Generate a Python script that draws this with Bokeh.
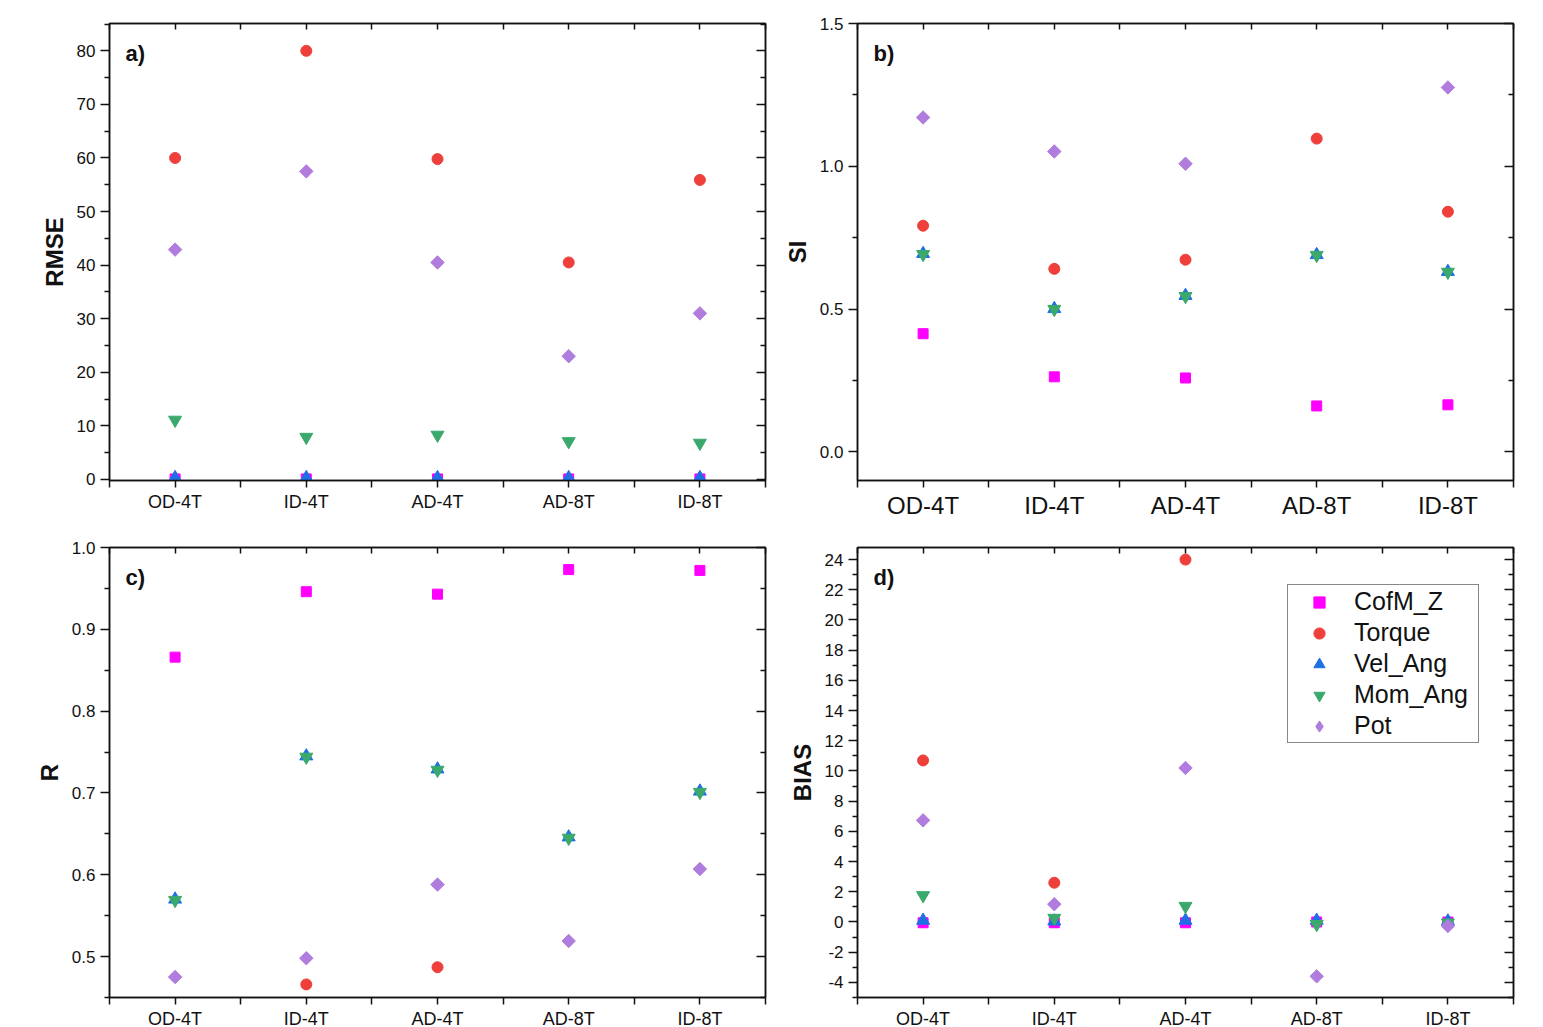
import math
from bokeh.plotting import figure
from bokeh.models import (FixedTicker, LinearAxis, Range1d, Label, Legend, LegendItem,
                          ColumnDataSource, PrintfTickFormatter, CustomLabelingPolicy)
from bokeh.layouts import column, row
from bokeh.embed import file_html
from bokeh.resources import INLINE

nan = float("nan")

categories = ["OD-4T", "ID-4T", "AD-4T", "AD-8T", "ID-8T"]
series = ["CofM_Z", "Torque", "Vel_Ang", "Mom_Ang", "Pot"]

# a) RMSE
rmse_cofm = [0.1, 0.1, 0.1, 0.1, 0.1]
rmse_torque = [60.0, 80.0, 59.8, 40.5, 55.9]
rmse_vel = [0.3, 0.3, 0.3, 0.3, 0.3]
rmse_mom = [11.1, 7.9, 8.3, 7.1, 6.8]
rmse_pot = [42.9, 57.5, 40.5, 23.0, 31.0]

# b) SI
si_cofm = [0.414, 0.263, 0.259, 0.161, 0.165]
si_torque = [0.792, 0.641, 0.673, 1.097, 0.841]
si_vel = [0.694, 0.501, 0.547, 0.690, 0.631]
si_mom = [0.692, 0.500, 0.545, 0.689, 0.630]
si_pot = [1.171, 1.052, 1.009, nan, 1.276]

# c) R
r_cofm = [0.866, 0.946, 0.943, 0.973, 0.972]
r_torque = [nan, 0.466, 0.487, nan, nan]
r_vel = [0.570, 0.745, 0.729, 0.646, 0.702]
r_mom = [0.569, 0.744, 0.728, 0.645, 0.701]
r_pot = [0.475, 0.498, 0.588, 0.519, 0.607]

# d) BIAS
bias_cofm = [-0.05, -0.05, -0.05, 0.0, 0.0]
bias_torque = [10.7, 2.6, 24.0, nan, nan]
bias_vel = [0.1, 0.05, 0.1, 0.1, 0.05]
bias_mom = [1.76, 0.26, 1.05, -0.15, -0.05]
bias_pot = [6.73, 1.18, 10.2, -3.6, -0.26]

colors = {"CofM_Z": "#FF00FF", "Torque": "#EE3F3A", "Vel_Ang": "#1F6FE5",
          "Mom_Ang": "#3BA96C", "Pot": "#B07CDD"}
markers = {"CofM_Z": ("square", 10, 0.0), "Torque": ("circle", 11, 0.0),
           "Vel_Ang": ("triangle", 13, 0.0), "Mom_Ang": ("inverted_triangle", 13, 0.0),
           "Pot": ("square", 9.5, math.pi / 4)}

FONT = "Liberation Sans"
FW = 656
INK = "#111111"
xpos = list(range(1, len(categories) + 1))
x_minor = [i + 0.5 for i in range(0, len(categories) + 1)]


def style_ticks(ax, tin, tout, mtin, mtout):
    ax.major_tick_in = tin
    ax.major_tick_out = tout
    ax.minor_tick_in = mtin
    ax.minor_tick_out = mtout
    ax.axis_line_width = 1.5
    ax.axis_line_color = INK
    ax.major_tick_line_width = 1.5
    ax.minor_tick_line_width = 1.5
    ax.major_tick_line_color = INK
    ax.minor_tick_line_color = INK


def mirror(ax):
    ax.major_label_text_font_size = "1px"
    ax.major_label_standoff = 0
    ax.major_label_policy = CustomLabelingPolicy(code="return []")


def make_panel(letter, ylabel, data, yr, ymajor, yminor, yfmt, frame_h,
               bl, br, bt, bb, xfont, legend_loc=None):
    p = figure(frame_width=FW, frame_height=frame_h, output_backend="svg",
               toolbar_location=None, x_range=Range1d(0.5, len(categories) + 0.5),
               y_range=Range1d(*yr), min_border_left=bl, min_border_right=br,
               min_border_top=bt, min_border_bottom=bb, x_axis_type=None, y_axis_type=None)
    p.background_fill_color = "white"
    p.border_fill_color = "white"
    p.outline_line_color = INK
    p.outline_line_width = 1.5
    p.xgrid.visible = False
    p.ygrid.visible = False

    xt = FixedTicker(ticks=xpos, minor_ticks=x_minor)
    yt = FixedTicker(ticks=ymajor, minor_ticks=yminor)

    xb = LinearAxis(ticker=xt, major_label_overrides={i: c for i, c in zip(xpos, categories)})
    style_ticks(xb, 0, 7, 0, 7)
    xb.major_label_standoff = 4
    xb.major_label_text_font = FONT
    xb.major_label_text_font_size = xfont
    xb.major_label_text_color = INK
    p.add_layout(xb, "below")

    xtop = LinearAxis(ticker=xt)
    style_ticks(xtop, 6, 0, 6, 0)
    mirror(xtop)
    p.add_layout(xtop, "above")

    yl = LinearAxis(ticker=yt, axis_label=ylabel, formatter=PrintfTickFormatter(format=yfmt))
    style_ticks(yl, 0, 9, 0, 5)
    yl.major_label_standoff = 5
    yl.major_label_text_font = FONT
    yl.major_label_text_font_size = "17px"
    yl.major_label_text_color = INK
    yl.axis_label_text_font = FONT
    yl.axis_label_text_font_size = "24px"
    yl.axis_label_text_font_style = "bold"
    yl.axis_label_text_color = INK
    yl.axis_label_standoff = 6
    p.add_layout(yl, "left")

    yr_ax = LinearAxis(ticker=yt)
    style_ticks(yr_ax, 9, 0, 5, 0)
    mirror(yr_ax)
    p.add_layout(yr_ax, "right")

    rends = {}
    for s in series:
        m, sz, ang = markers[s]
        src = ColumnDataSource(dict(x=xpos, y=data[s]))
        rends[s] = p.scatter("x", "y", source=src, marker=m, size=sz, angle=ang,
                             fill_color=colors[s], line_color=colors[s], line_width=1)

    pyu = frame_h / (yr[1] - yr[0])
    pxu = FW / len(categories)
    p.add_layout(Label(x=0.5 + 16 / pxu, y=yr[1] - 30 / pyu, text=letter,
                       text_font=FONT, text_font_size="22px", text_font_style="bold",
                       text_baseline="middle", text_align="left", text_color=INK))

    if legend_loc is not None:
        # legend swatch for the rotated-square "Pot" marker (legend glyphs are drawn unrotated)
        pot_proxy = p.scatter(x=[nan], y=[nan], marker="diamond", size=15,
                              fill_color=colors["Pot"], line_color=colors["Pot"])
        lg_rends = dict(rends)
        lg_rends["Pot"] = pot_proxy
        items = [LegendItem(label=s, renderers=[lg_rends[s]]) for s in series]
        lg = Legend(items=items, location=legend_loc)
        lg.label_text_font = FONT
        lg.label_text_font_size = "25px"
        lg.label_text_color = INK
        lg.glyph_width = 58
        lg.glyph_height = 28
        lg.label_height = 28
        lg.label_width = 122
        lg.label_standoff = 6
        lg.spacing = 2
        lg.padding = 2
        lg.margin = 0
        lg.border_line_color = INK
        lg.border_line_width = 1
        lg.background_fill_alpha = 1
        p.add_layout(lg, "center")
    return p


rmse = {"CofM_Z": rmse_cofm, "Torque": rmse_torque, "Vel_Ang": rmse_vel, "Mom_Ang": rmse_mom, "Pot": rmse_pot}
si = {"CofM_Z": si_cofm, "Torque": si_torque, "Vel_Ang": si_vel, "Mom_Ang": si_mom, "Pot": si_pot}
rr = {"CofM_Z": r_cofm, "Torque": r_torque, "Vel_Ang": r_vel, "Mom_Ang": r_mom, "Pot": r_pot}
bias = {"CofM_Z": bias_cofm, "Torque": bias_torque, "Vel_Ang": bias_vel, "Mom_Ang": bias_mom, "Pot": bias_pot}

H1 = 457
H2 = 450

pa = make_panel("a)", "RMSE", rmse, (-0.2, 85.1), list(range(0, 81, 10)), list(range(5, 86, 10)),
                "%d", H1, 109, 10, 23, 40, "18px")
pb = make_panel("b)", "SI", si, (-0.1, 1.5), [0.0, 0.5, 1.0, 1.5], [0.25, 0.75, 1.25],
                "%.1f", H1, 82, 20, 23, 40, "24px")
pc = make_panel("c)", "R", rr, (0.45, 1.0), [0.5, 0.6, 0.7, 0.8, 0.9, 1.0],
                [0.45, 0.55, 0.65, 0.75, 0.85, 0.95], "%.1f", H2, 109, 10, 26, 0, "18px")
pd = make_panel("d)", "BIAS", bias, (-5.0, 24.8), list(range(-4, 25, 2)), list(range(-5, 24, 2)),
                "%d", H2, 82, 20, 26, 0, "18px", legend_loc=(430, 254))

layout = column(row(pa, pb), row(pc, pd))

with open("out.html", "w") as f:
    f.write(file_html(layout, INLINE))
